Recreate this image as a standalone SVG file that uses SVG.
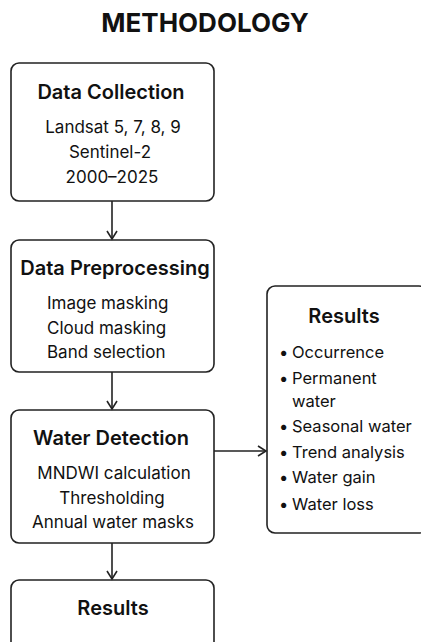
<svg xmlns="http://www.w3.org/2000/svg" width="421" height="642" viewBox="0 0 421 642">
<defs>
<marker id="arr" markerWidth="12" markerHeight="12" refX="10" refY="6" orient="auto" markerUnits="userSpaceOnUse">
<path d="M2,1 L10,6 L2,11" fill="none" stroke="#222" stroke-width="1.6"/>
</marker>
<style>
.box{fill:#fff;stroke:#222;stroke-width:1.6}
.t{font-family:Inter,"Noto Sans",sans-serif;fill:#111}
.h{font-size:20px;font-weight:600;text-anchor:middle}
.b{font-size:17px}
.r{font-size:16.5px}
.c{text-anchor:middle}
.title{font-size:26px;font-weight:700;text-anchor:middle}
.ln{stroke:#222;stroke-width:1.6;fill:none}
</style>
</defs>
<rect width="421" height="642" fill="#fff"/>
<text class="t title" x="205" y="32">METHODOLOGY</text>
<g id="collection">
<rect class="box" x="11" y="63" width="203" height="138" rx="8"/>
<text class="t h" x="111" y="99">Data Collection</text>
<text class="t b c" x="113" y="133">Landsat 5, 7, 8, 9</text>
<text class="t b c" x="110" y="158">Sentinel-2</text>
<text class="t b c" x="112" y="183">2000–2025</text>
</g>
<g id="preprocessing">
<rect class="box" x="11" y="240" width="203" height="132" rx="8"/>
<text class="t h" x="115" y="275">Data Preprocessing</text>
<text class="t b" x="47" y="309">Image masking</text>
<text class="t b" x="47" y="334">Cloud masking</text>
<text class="t b" x="47" y="358">Band selection</text>
</g>
<g id="detection">
<rect class="box" x="11" y="410" width="203" height="133" rx="8"/>
<text class="t h" x="111" y="445">Water Detection</text>
<text class="t b c" x="114" y="479">MNDWI calculation</text>
<text class="t b c" x="112" y="504">Thresholding</text>
<text class="t b c" x="113" y="528">Annual water masks</text>
</g>
<g id="results-bottom">
<rect class="box" x="11" y="580" width="203" height="80" rx="8"/>
<text class="t h" x="113" y="615">Results</text>
</g>
<g id="results-right">
<rect class="box" x="267" y="286" width="160" height="247" rx="8"/>
<text class="t h" x="344" y="323">Results</text>
<g class="t r">
<text x="279" y="358">•<tspan x="292">Occurrence</tspan></text>
<text x="279" y="384">•<tspan x="292">Permanent</tspan></text>
<text x="292" y="407">water</text>
<text x="279" y="432">•<tspan x="292">Seasonal water</tspan></text>
<text x="279" y="458">•<tspan x="292">Trend analysis</tspan></text>
<text x="279" y="483">•<tspan x="292">Water gain</tspan></text>
<text x="279" y="510">•<tspan x="292">Water loss</tspan></text>
</g>
</g>
<g id="connectors">
<line class="ln" x1="112" y1="201" x2="112" y2="239" marker-end="url(#arr)"/>
<line class="ln" x1="112" y1="372" x2="112" y2="409" marker-end="url(#arr)"/>
<line class="ln" x1="112" y1="543" x2="112" y2="579" marker-end="url(#arr)"/>
<line class="ln" x1="214" y1="451" x2="266" y2="451" marker-end="url(#arr)"/>
</g>
</svg>
